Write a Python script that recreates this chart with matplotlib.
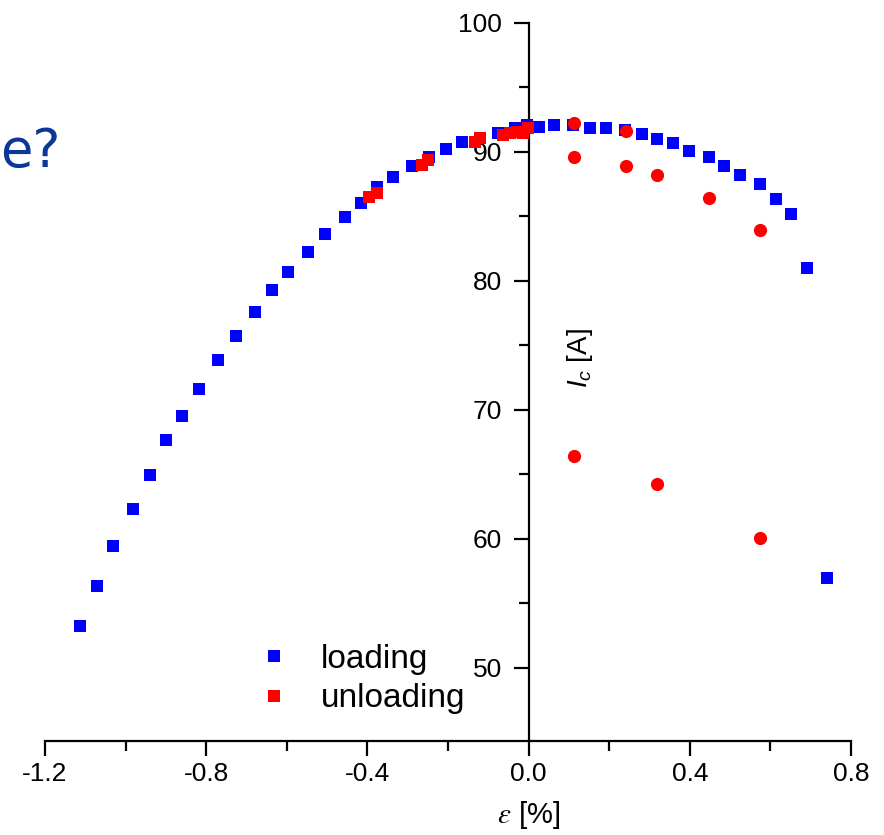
import numpy as np
import matplotlib.pyplot as plt
from matplotlib.lines import Line2D
from matplotlib.ticker import FixedLocator

plt.rcParams['font.family'] = ['Liberation Sans', 'DejaVu Sans']
plt.rcParams['axes.unicode_minus'] = False
plt.rcParams['mathtext.fontset'] = 'custom'
plt.rcParams['mathtext.rm'] = 'Liberation Sans'
plt.rcParams['mathtext.it'] = 'Liberation Sans:italic'

#loading branch (strain %, Ic in A)
load_x = [-1.113, -1.071, -1.031, -0.982, -0.939, -0.900, -0.860, -0.818, -0.771, -0.726,
          -0.679, -0.637, -0.597, -0.547, -0.505, -0.456, -0.416, -0.376, -0.336, -0.289,
          -0.247, -0.205, -0.165, -0.121, -0.076, -0.034, -0.004, 0.026, 0.063, 0.110,
          0.152, 0.192, 0.239, 0.281, 0.319, 0.358, 0.398, 0.448, 0.485, 0.525,
          0.574, 0.614, 0.651, 0.691, 0.740]
load_y = [53.26, 56.36, 59.46, 62.33, 64.96, 67.67, 69.53, 71.63, 73.88, 75.74,
          77.60, 79.30, 80.70, 82.25, 83.64, 84.96, 86.05, 87.29, 88.06, 88.91,
          89.61, 90.23, 90.78, 91.09, 91.47, 91.86, 92.09, 91.94, 92.09, 92.09,
          91.86, 91.86, 91.71, 91.40, 91.01, 90.70, 90.08, 89.61, 88.91, 88.22,
          87.52, 86.36, 85.19, 81.01, 56.98]

#unloading, compressive side (squares)
unload_sq_x = [-0.396, -0.376, -0.264, -0.250, -0.133, -0.121, -0.064, -0.046, -0.029, -0.014, -0.001]
unload_sq_y = [86.51, 86.82, 88.99, 89.38, 90.78, 91.09, 91.32, 91.47, 91.55, 91.47, 91.86]

#unloading, tensile side (circles)
unload_ci_x = [0.113, 0.113, 0.242, 0.242, 0.319, 0.448, 0.574, 0.113, 0.319, 0.574]
unload_ci_y = [92.25, 89.61, 91.63, 88.91, 88.22, 86.43, 83.95, 66.43, 64.26, 60.08]

x_major = [-1.2, -0.8, -0.4, 0.0, 0.4, 0.8]
x_minor = [-1.0, -0.6, -0.2, 0.2, 0.6]
y_major = [50, 60, 70, 80, 90, 100]
y_minor = [55, 65, 75, 85, 95]

fig = plt.figure(figsize=(8.84, 8.35), dpi=100)
ax = fig.add_axes([45/884, 94/835, 806/884, 718/835])

ax.plot(load_x, load_y, 's', color='#0000ff', markersize=8, markeredgewidth=0, zorder=3)
ax.plot(unload_sq_x, unload_sq_y, 's', color='#ff0000', markersize=8.5, markeredgewidth=0, zorder=4)
ax.plot(unload_ci_x, unload_ci_y, 'o', color='#ff0000', markersize=9.5, markeredgewidth=0, zorder=4)

ax.set_xlim(-1.2, 0.8)
ax.set_ylim(44.3, 100)

#axes cross at zero strain
ax.spines['left'].set_position(('data', 0))
ax.spines['right'].set_visible(False)
ax.spines['top'].set_visible(False)
for s in ['left', 'bottom']:
    ax.spines[s].set_linewidth(1.6)

ax.xaxis.set_major_locator(FixedLocator(x_major))
ax.xaxis.set_minor_locator(FixedLocator(x_minor))
ax.yaxis.set_major_locator(FixedLocator(y_major))
ax.yaxis.set_minor_locator(FixedLocator(y_minor))
ax.set_xticklabels([f"{v:.1f}" for v in x_major])
ax.set_yticklabels([str(v) for v in y_major])
ax.tick_params(which='major', direction='out', length=11, width=1.6, labelsize=19)
ax.tick_params(which='minor', direction='out', length=7, width=1.6)
ax.tick_params(axis='x', pad=4)
ax.tick_params(axis='y', pad=8)

#labels
ax.text(0.128, 74.0, r"$I_c$ [A]", rotation=90, fontsize=20, ha='center', va='center')
ax.annotate(r"$\varepsilon$ [%]", xy=(0.0, -0.103), xycoords=('data', 'axes fraction'),
            fontsize=21, ha='center', va='center', math_fontfamily='stix')

handles = [Line2D([], [], marker='s', linestyle='none', color='#0000ff', markersize=8, markeredgewidth=0),
           Line2D([], [], marker='s', linestyle='none', color='#ff0000', markersize=8, markeredgewidth=0)]
ax.legend(handles, ['loading', 'unloading'], loc='lower left', bbox_to_anchor=(0.268, 0.037),
          frameon=False, fontsize=24, handlelength=0.8, handletextpad=1.0, labelspacing=0.25,
          borderpad=0, borderaxespad=0)

#leftover slide text
fig.text(0.0, 835 - 167, "e?", transform=None, fontsize=38, color='#0b3797',
         family='DejaVu Sans', ha='left', va='baseline')

fig.savefig('out.png', dpi=100)
